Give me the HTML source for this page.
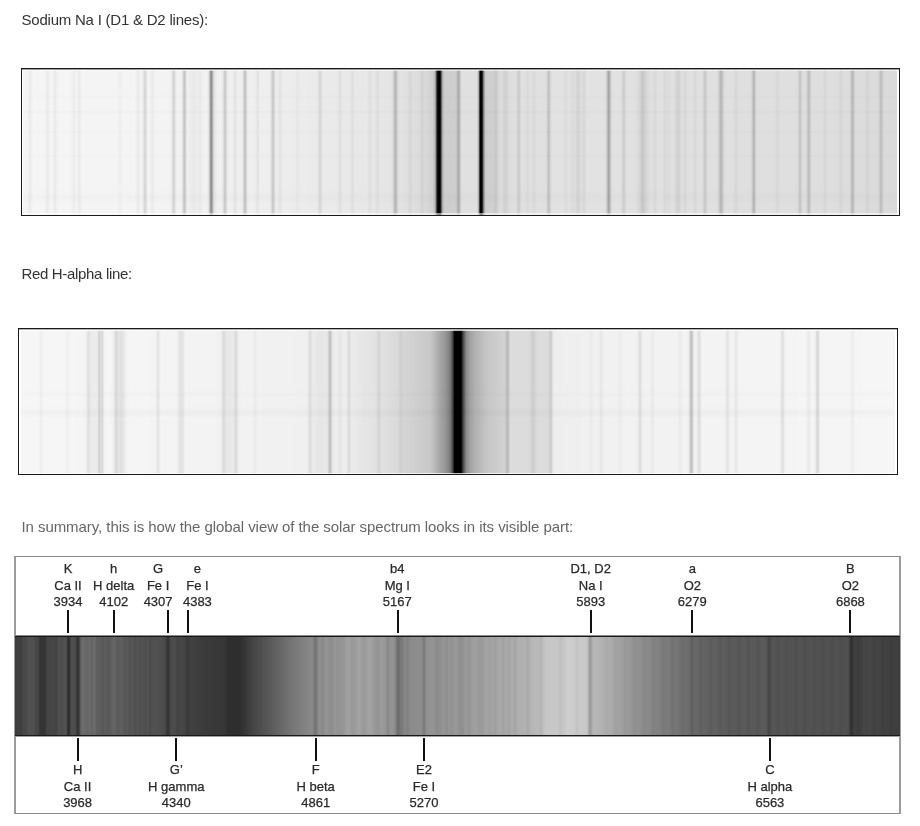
<!DOCTYPE html>
<html><head><meta charset="utf-8"><style>
html,body{margin:0;padding:0;background:#fff;}
body{width:920px;height:826px;position:relative;overflow:hidden;font-family:"Liberation Sans",Arial,sans-serif;}
.t{position:absolute;left:21.5px;font-size:15px;line-height:18px;white-space:nowrap;color:#333;}
.box{position:absolute;box-sizing:border-box;}
.sp{position:absolute;}
.lab{position:absolute;width:120px;text-align:center;font-size:13px;line-height:16.3px;color:#2a2a2a;white-space:nowrap;-webkit-text-stroke:0.25px #2a2a2a;}
.tk{position:absolute;width:2px;background:#111;}
</style></head><body>
<div class="t" style="top:10.7px;letter-spacing:-0.22px">Sodium Na I (D1 &amp; D2 lines):</div>
<div class="box" style="left:21px;top:68px;width:879px;height:148px;border:1px solid #1a1a1a;border-top-width:1.5px;background:#fff"></div>
<div class="sp" style="left:23px;top:70px;width:874px;height:145px;background:linear-gradient(to right,#f5f5f5 0.5px,#f5f5f5 1.5px,#f5f5f5 2.5px,#f5f5f5 3.5px,#f3f3f3 4.5px,#f0f0f0 5.5px,#ececec 6.5px,#ececec 7.5px,#f0f0f0 8.5px,#f3f3f3 9.5px,#f5f5f5 10.5px,#f5f5f5 11.5px,#f5f5f5 12.5px,#f5f5f5 13.5px,#f5f5f5 14.5px,#f5f5f5 15.5px,#f5f5f5 16.5px,#f5f5f5 17.5px,#f5f5f5 18.5px,#f5f5f5 19.5px,#f5f5f5 20.5px,#f4f4f4 21.5px,#f2f2f2 22.5px,#ededed 23.5px,#ebebeb 24.5px,#ededed 25.5px,#f2f2f2 26.5px,#f4f4f4 27.5px,#f4f4f4 28.5px,#f3f3f3 29.5px,#f0f0f0 30.5px,#ebebeb 31.5px,#ebebeb 32.5px,#f0f0f0 33.5px,#f3f3f3 34.5px,#f4f4f4 35.5px,#f5f5f5 36.5px,#f5f5f5 37.5px,#f5f5f5 38.5px,#f5f5f5 39.5px,#f5f5f5 40.5px,#f5f5f5 41.5px,#f5f5f5 42.5px,#f5f5f5 43.5px,#f5f5f5 44.5px,#f5f5f5 45.5px,#f5f5f5 46.5px,#f4f4f4 47.5px,#f3f3f3 48.5px,#f0f0f0 49.5px,#ededed 50.5px,#eeeeee 51.5px,#f1f1f1 52.5px,#f3f3f3 53.5px,#f1f1f1 54.5px,#ececec 55.5px,#ebebeb 56.5px,#eeeeee 57.5px,#f2f2f2 58.5px,#f4f4f4 59.5px,#f4f4f4 60.5px,#f4f4f4 61.5px,#f4f4f4 62.5px,#f4f4f4 63.5px,#f4f4f4 64.5px,#f4f4f4 65.5px,#f4f4f4 66.5px,#f4f4f4 67.5px,#f4f4f4 68.5px,#f4f4f4 69.5px,#f4f4f4 70.5px,#f4f4f4 71.5px,#f4f4f4 72.5px,#f4f4f4 73.5px,#f4f4f4 74.5px,#f4f4f4 75.5px,#f4f4f4 76.5px,#f4f4f4 77.5px,#f4f4f4 78.5px,#f4f4f4 79.5px,#f4f4f4 80.5px,#f4f4f4 81.5px,#f4f4f4 82.5px,#f4f4f4 83.5px,#f4f4f4 84.5px,#f4f4f4 85.5px,#f4f4f4 86.5px,#f4f4f4 87.5px,#f4f4f4 88.5px,#f4f4f4 89.5px,#f4f4f4 90.5px,#f4f4f4 91.5px,#f4f4f4 92.5px,#f4f4f4 93.5px,#f3f3f3 94.5px,#f2f2f2 95.5px,#efefef 96.5px,#efefef 97.5px,#f2f2f2 98.5px,#f3f3f3 99.5px,#f4f4f4 100.5px,#f4f4f4 101.5px,#f4f4f4 102.5px,#f4f4f4 103.5px,#f4f4f4 104.5px,#f4f4f4 105.5px,#f4f4f4 106.5px,#f4f4f4 107.5px,#f4f4f4 108.5px,#f4f4f4 109.5px,#f4f4f4 110.5px,#f4f4f4 111.5px,#f2f2f2 112.5px,#efefef 113.5px,#ebebeb 114.5px,#ebebeb 115.5px,#efefef 116.5px,#f2f2f2 117.5px,#f3f3f3 118.5px,#efefef 119.5px,#e4e4e4 120.5px,#d8d8d8 121.5px,#d8d8d8 122.5px,#e4e4e4 123.5px,#efefef 124.5px,#f3f3f3 125.5px,#f3f3f3 126.5px,#f1f1f1 127.5px,#ededed 128.5px,#ebebeb 129.5px,#ededed 130.5px,#f1f1f1 131.5px,#f3f3f3 132.5px,#f3f3f3 133.5px,#f3f3f3 134.5px,#f3f3f3 135.5px,#f3f3f3 136.5px,#f3f3f3 137.5px,#f3f3f3 138.5px,#f3f3f3 139.5px,#f3f3f3 140.5px,#f3f3f3 141.5px,#f3f3f3 142.5px,#f3f3f3 143.5px,#f3f3f3 144.5px,#f3f3f3 145.5px,#f2f2f2 146.5px,#f1f1f1 147.5px,#ececec 148.5px,#dfdfdf 149.5px,#d5d5d5 150.5px,#d9d9d9 151.5px,#e6e6e6 152.5px,#efefef 153.5px,#f2f2f2 154.5px,#f2f2f2 155.5px,#f2f2f2 156.5px,#f2f2f2 157.5px,#eeeeee 158.5px,#e3e3e3 159.5px,#cfcfcf 160.5px,#c6c6c6 161.5px,#d3d3d3 162.5px,#e5e5e5 163.5px,#eeeeee 164.5px,#efefef 165.5px,#eeeeee 166.5px,#ededed 167.5px,#ebebeb 168.5px,#eaeaea 169.5px,#e9e9e9 170.5px,#eaeaea 171.5px,#ebebeb 172.5px,#ececec 173.5px,#ededed 174.5px,#ebebeb 175.5px,#e9e9e9 176.5px,#e9e9e9 177.5px,#ededed 178.5px,#f0f0f0 179.5px,#f1f1f1 180.5px,#f1f1f1 181.5px,#f1f1f1 182.5px,#f1f1f1 183.5px,#eeeeee 184.5px,#e3e3e3 185.5px,#c5c5c5 186.5px,#9e9e9e 187.5px,#929292 188.5px,#afafaf 189.5px,#d2d2d2 190.5px,#e3e3e3 191.5px,#e8e8e8 192.5px,#ececec 193.5px,#efefef 194.5px,#f0f0f0 195.5px,#f0f0f0 196.5px,#f0f0f0 197.5px,#efefef 198.5px,#eaeaea 199.5px,#dddddd 200.5px,#cdcdcd 201.5px,#cdcdcd 202.5px,#dcdcdc 203.5px,#eaeaea 204.5px,#efefef 205.5px,#f0f0f0 206.5px,#f0f0f0 207.5px,#efefef 208.5px,#eeeeee 209.5px,#eaeaea 210.5px,#e5e5e5 211.5px,#e4e4e4 212.5px,#e9e9e9 213.5px,#eeeeee 214.5px,#efefef 215.5px,#efefef 216.5px,#efefef 217.5px,#eeeeee 218.5px,#e8e8e8 219.5px,#d9d9d9 220.5px,#c6c6c6 221.5px,#c6c6c6 222.5px,#d9d9d9 223.5px,#e8e8e8 224.5px,#eeeeee 225.5px,#efefef 226.5px,#efefef 227.5px,#efefef 228.5px,#efefef 229.5px,#efefef 230.5px,#eeeeee 231.5px,#ececec 232.5px,#e7e7e7 233.5px,#e5e5e5 234.5px,#e7e7e7 235.5px,#ebebeb 236.5px,#eeeeee 237.5px,#eeeeee 238.5px,#eeeeee 239.5px,#eeeeee 240.5px,#eeeeee 241.5px,#eeeeee 242.5px,#eeeeee 243.5px,#eeeeee 244.5px,#eeeeee 245.5px,#ededed 246.5px,#e8e8e8 247.5px,#dbdbdb 248.5px,#cccccc 249.5px,#cccccc 250.5px,#dbdbdb 251.5px,#e8e8e8 252.5px,#ececec 253.5px,#ececec 254.5px,#e8e8e8 255.5px,#e4e4e4 256.5px,#e4e4e4 257.5px,#e8e8e8 258.5px,#ebebeb 259.5px,#ededed 260.5px,#ededed 261.5px,#ededed 262.5px,#ededed 263.5px,#ededed 264.5px,#ededed 265.5px,#ededed 266.5px,#ededed 267.5px,#ececec 268.5px,#ececec 269.5px,#ececec 270.5px,#ececec 271.5px,#ebebeb 272.5px,#e8e8e8 273.5px,#e7e7e7 274.5px,#e8e8e8 275.5px,#eaeaea 276.5px,#ececec 277.5px,#ececec 278.5px,#ececec 279.5px,#ececec 280.5px,#ececec 281.5px,#ececec 282.5px,#ececec 283.5px,#ebebeb 284.5px,#ebebeb 285.5px,#ebebeb 286.5px,#ebebeb 287.5px,#ebebeb 288.5px,#ebebeb 289.5px,#ebebeb 290.5px,#ebebeb 291.5px,#ebebeb 292.5px,#eaeaea 293.5px,#e8e8e8 294.5px,#e1e1e1 295.5px,#d8d8d8 296.5px,#d8d8d8 297.5px,#e0e0e0 298.5px,#e7e7e7 299.5px,#eaeaea 300.5px,#eaeaea 301.5px,#eaeaea 302.5px,#eaeaea 303.5px,#eaeaea 304.5px,#eaeaea 305.5px,#eaeaea 306.5px,#eaeaea 307.5px,#eaeaea 308.5px,#eaeaea 309.5px,#eaeaea 310.5px,#eaeaea 311.5px,#eaeaea 312.5px,#e9e9e9 313.5px,#e8e8e8 314.5px,#e4e4e4 315.5px,#e0e0e0 316.5px,#e0e0e0 317.5px,#e4e4e4 318.5px,#e8e8e8 319.5px,#e9e9e9 320.5px,#e9e9e9 321.5px,#e9e9e9 322.5px,#e9e9e9 323.5px,#e9e9e9 324.5px,#e9e9e9 325.5px,#e8e8e8 326.5px,#e6e6e6 327.5px,#e1e1e1 328.5px,#dfdfdf 329.5px,#e1e1e1 330.5px,#e6e6e6 331.5px,#e8e8e8 332.5px,#e8e8e8 333.5px,#e8e8e8 334.5px,#e8e8e8 335.5px,#e8e8e8 336.5px,#e8e8e8 337.5px,#e8e8e8 338.5px,#e8e8e8 339.5px,#e8e8e8 340.5px,#e8e8e8 341.5px,#e8e8e8 342.5px,#e8e8e8 343.5px,#e6e6e6 344.5px,#e3e3e3 345.5px,#e0e0e0 346.5px,#e0e0e0 347.5px,#e3e3e3 348.5px,#e6e6e6 349.5px,#e7e7e7 350.5px,#e6e6e6 351.5px,#e4e4e4 352.5px,#e1e1e1 353.5px,#dedede 354.5px,#e0e0e0 355.5px,#e4e4e4 356.5px,#e5e5e5 357.5px,#e6e6e6 358.5px,#e6e6e6 359.5px,#e6e6e6 360.5px,#e5e5e5 361.5px,#e5e5e5 362.5px,#e5e5e5 363.5px,#e5e5e5 364.5px,#e5e5e5 365.5px,#e5e5e5 366.5px,#e4e4e4 367.5px,#e3e3e3 368.5px,#dedede 369.5px,#d0d0d0 370.5px,#bfbfbf 371.5px,#b8b8b8 372.5px,#c2c2c2 373.5px,#d3d3d3 374.5px,#dedede 375.5px,#e1e1e1 376.5px,#e2e2e2 377.5px,#e2e2e2 378.5px,#e1e1e1 379.5px,#e1e1e1 380.5px,#e1e1e1 381.5px,#e0e0e0 382.5px,#e0e0e0 383.5px,#dfdfdf 384.5px,#dbdbdb 385.5px,#d8d8d8 386.5px,#d7d7d7 387.5px,#dadada 388.5px,#dddddd 389.5px,#dedede 390.5px,#dddddd 391.5px,#dddddd 392.5px,#dddddd 393.5px,#dcdcdc 394.5px,#dcdcdc 395.5px,#dbdbdb 396.5px,#d7d7d7 397.5px,#d4d4d4 398.5px,#d3d3d3 399.5px,#d6d6d6 400.5px,#d9d9d9 401.5px,#d9d9d9 402.5px,#d8d8d8 403.5px,#d6d6d6 404.5px,#d5d5d5 405.5px,#d4d4d4 406.5px,#d2d2d2 407.5px,#d1d1d1 408.5px,#d0d0d0 409.5px,#c9c9c9 410.5px,#bebebe 411.5px,#989898 412.5px,#4b4b4b 413.5px,#101010 414.5px,#030303 415.5px,#030303 416.5px,#1a1a1a 417.5px,#676767 418.5px,#a5a5a5 419.5px,#c2c2c2 420.5px,#cacaca 421.5px,#cecece 422.5px,#cecece 423.5px,#cecece 424.5px,#cecece 425.5px,#cecece 426.5px,#cecece 427.5px,#cecece 428.5px,#cecece 429.5px,#cecece 430.5px,#cecece 431.5px,#cccccc 432.5px,#c5c5c5 433.5px,#b7b7b7 434.5px,#adadad 435.5px,#b7b7b7 436.5px,#cecece 437.5px,#dcdcdc 438.5px,#dfdfdf 439.5px,#e0e0e0 440.5px,#e0e0e0 441.5px,#e0e0e0 442.5px,#e0e0e0 443.5px,#e0e0e0 444.5px,#e0e0e0 445.5px,#e0e0e0 446.5px,#e0e0e0 447.5px,#e0e0e0 448.5px,#e0e0e0 449.5px,#e0e0e0 450.5px,#e0e0e0 451.5px,#e0e0e0 452.5px,#e0e0e0 453.5px,#d2d2d2 454.5px,#aeaeae 455.5px,#464646 456.5px,#030303 457.5px,#030303 458.5px,#282828 459.5px,#787878 460.5px,#a8a8a8 461.5px,#c7c7c7 462.5px,#cecece 463.5px,#cecece 464.5px,#cfcfcf 465.5px,#cfcfcf 466.5px,#cfcfcf 467.5px,#cfcfcf 468.5px,#cfcfcf 469.5px,#cecece 470.5px,#cbcbcb 471.5px,#c8c8c8 472.5px,#cacaca 473.5px,#d1d1d1 474.5px,#d7d7d7 475.5px,#dadada 476.5px,#dcdcdc 477.5px,#dbdbdb 478.5px,#d9d9d9 479.5px,#d5d5d5 480.5px,#d2d2d2 481.5px,#d1d1d1 482.5px,#d3d3d3 483.5px,#d6d6d6 484.5px,#dadada 485.5px,#dcdcdc 486.5px,#dedede 487.5px,#dedede 488.5px,#dedede 489.5px,#dfdfdf 490.5px,#dfdfdf 491.5px,#dedede 492.5px,#dbdbdb 493.5px,#d3d3d3 494.5px,#cccccc 495.5px,#cfcfcf 496.5px,#d8d8d8 497.5px,#dedede 498.5px,#e0e0e0 499.5px,#e0e0e0 500.5px,#e0e0e0 501.5px,#dedede 502.5px,#dcdcdc 503.5px,#dadada 504.5px,#dcdcdc 505.5px,#dedede 506.5px,#dfdfdf 507.5px,#dfdfdf 508.5px,#dddddd 509.5px,#dadada 510.5px,#dadada 511.5px,#dddddd 512.5px,#dfdfdf 513.5px,#e0e0e0 514.5px,#e0e0e0 515.5px,#e0e0e0 516.5px,#e0e0e0 517.5px,#e0e0e0 518.5px,#e0e0e0 519.5px,#e0e0e0 520.5px,#e0e0e0 521.5px,#dfdfdf 522.5px,#d9d9d9 523.5px,#cccccc 524.5px,#c2c2c2 525.5px,#c7c7c7 526.5px,#d5d5d5 527.5px,#dfdfdf 528.5px,#e2e2e2 529.5px,#e2e2e2 530.5px,#e2e2e2 531.5px,#e2e2e2 532.5px,#e2e2e2 533.5px,#e2e2e2 534.5px,#e2e2e2 535.5px,#e2e2e2 536.5px,#e2e2e2 537.5px,#e2e2e2 538.5px,#e2e2e2 539.5px,#e1e1e1 540.5px,#dfdfdf 541.5px,#dcdcdc 542.5px,#dcdcdc 543.5px,#dfdfdf 544.5px,#e1e1e1 545.5px,#e1e1e1 546.5px,#e0e0e0 547.5px,#dddddd 548.5px,#dcdcdc 549.5px,#dcdcdc 550.5px,#dddddd 551.5px,#dbdbdb 552.5px,#d7d7d7 553.5px,#d4d4d4 554.5px,#d4d4d4 555.5px,#d7d7d7 556.5px,#dbdbdb 557.5px,#dddddd 558.5px,#dcdcdc 559.5px,#d8d8d8 560.5px,#d9d9d9 561.5px,#dddddd 562.5px,#e0e0e0 563.5px,#e2e2e2 564.5px,#e2e2e2 565.5px,#e2e2e2 566.5px,#e2e2e2 567.5px,#e2e2e2 568.5px,#e2e2e2 569.5px,#e2e2e2 570.5px,#e2e2e2 571.5px,#e2e2e2 572.5px,#e2e2e2 573.5px,#e2e2e2 574.5px,#e2e2e2 575.5px,#e2e2e2 576.5px,#e2e2e2 577.5px,#e2e2e2 578.5px,#e2e2e2 579.5px,#e2e2e2 580.5px,#e1e1e1 581.5px,#dedede 582.5px,#d1d1d1 583.5px,#bababa 584.5px,#a7a7a7 585.5px,#aeaeae 586.5px,#c6c6c6 587.5px,#d9d9d9 588.5px,#e0e0e0 589.5px,#e1e1e1 590.5px,#e2e2e2 591.5px,#e2e2e2 592.5px,#e2e2e2 593.5px,#e2e2e2 594.5px,#e2e2e2 595.5px,#e1e1e1 596.5px,#e1e1e1 597.5px,#dddddd 598.5px,#d5d5d5 599.5px,#cecece 600.5px,#d1d1d1 601.5px,#d9d9d9 602.5px,#dfdfdf 603.5px,#e1e1e1 604.5px,#e1e1e1 605.5px,#e1e1e1 606.5px,#e1e1e1 607.5px,#e1e1e1 608.5px,#e1e1e1 609.5px,#e1e1e1 610.5px,#e0e0e0 611.5px,#dfdfdf 612.5px,#dedede 613.5px,#dcdcdc 614.5px,#d9d9d9 615.5px,#d6d6d6 616.5px,#d1d1d1 617.5px,#cbcbcb 618.5px,#c7c7c7 619.5px,#c9c9c9 620.5px,#cecece 621.5px,#d3d3d3 622.5px,#d6d6d6 623.5px,#d9d9d9 624.5px,#dcdcdc 625.5px,#dedede 626.5px,#dfdfdf 627.5px,#e0e0e0 628.5px,#dfdfdf 629.5px,#dddddd 630.5px,#d9d9d9 631.5px,#d9d9d9 632.5px,#dddddd 633.5px,#e0e0e0 634.5px,#e1e1e1 635.5px,#e1e1e1 636.5px,#e1e1e1 637.5px,#e1e1e1 638.5px,#e0e0e0 639.5px,#dddddd 640.5px,#d9d9d9 641.5px,#d9d9d9 642.5px,#dbdbdb 643.5px,#dcdcdc 644.5px,#dbdbdb 645.5px,#dcdcdc 646.5px,#dedede 647.5px,#e0e0e0 648.5px,#e0e0e0 649.5px,#dfdfdf 650.5px,#dddddd 651.5px,#d9d9d9 652.5px,#d5d5d5 653.5px,#d1d1d1 654.5px,#d1d1d1 655.5px,#d4d4d4 656.5px,#d9d9d9 657.5px,#dddddd 658.5px,#dedede 659.5px,#dcdcdc 660.5px,#d9d9d9 661.5px,#d9d9d9 662.5px,#dcdcdc 663.5px,#dfdfdf 664.5px,#e0e0e0 665.5px,#e0e0e0 666.5px,#e0e0e0 667.5px,#e0e0e0 668.5px,#dfdfdf 669.5px,#dcdcdc 670.5px,#d9d9d9 671.5px,#d9d9d9 672.5px,#dcdcdc 673.5px,#dfdfdf 674.5px,#e0e0e0 675.5px,#e0e0e0 676.5px,#e0e0e0 677.5px,#e0e0e0 678.5px,#dcdcdc 679.5px,#d4d4d4 680.5px,#cacaca 681.5px,#cacaca 682.5px,#d4d4d4 683.5px,#dcdcdc 684.5px,#dfdfdf 685.5px,#e0e0e0 686.5px,#e0e0e0 687.5px,#e0e0e0 688.5px,#e0e0e0 689.5px,#e0e0e0 690.5px,#e0e0e0 691.5px,#e0e0e0 692.5px,#dfdfdf 693.5px,#dcdcdc 694.5px,#d4d4d4 695.5px,#c6c6c6 696.5px,#bababa 697.5px,#bababa 698.5px,#c6c6c6 699.5px,#d4d4d4 700.5px,#dcdcdc 701.5px,#dfdfdf 702.5px,#e0e0e0 703.5px,#e0e0e0 704.5px,#e0e0e0 705.5px,#e0e0e0 706.5px,#e0e0e0 707.5px,#e0e0e0 708.5px,#dfdfdf 709.5px,#dedede 710.5px,#dbdbdb 711.5px,#d8d8d8 712.5px,#d8d8d8 713.5px,#dbdbdb 714.5px,#dedede 715.5px,#dfdfdf 716.5px,#dfdfdf 717.5px,#dfdfdf 718.5px,#dfdfdf 719.5px,#dfdfdf 720.5px,#dfdfdf 721.5px,#dfdfdf 722.5px,#dfdfdf 723.5px,#dfdfdf 724.5px,#dfdfdf 725.5px,#dfdfdf 726.5px,#dedede 727.5px,#d6d6d6 728.5px,#c6c6c6 729.5px,#b8b8b8 730.5px,#bdbdbd 731.5px,#cfcfcf 732.5px,#dbdbdb 733.5px,#dfdfdf 734.5px,#dfdfdf 735.5px,#dfdfdf 736.5px,#dfdfdf 737.5px,#dfdfdf 738.5px,#dfdfdf 739.5px,#dfdfdf 740.5px,#dfdfdf 741.5px,#dfdfdf 742.5px,#dfdfdf 743.5px,#dfdfdf 744.5px,#dfdfdf 745.5px,#dfdfdf 746.5px,#dfdfdf 747.5px,#dfdfdf 748.5px,#dfdfdf 749.5px,#dfdfdf 750.5px,#dedede 751.5px,#dddddd 752.5px,#dadada 753.5px,#d9d9d9 754.5px,#dadada 755.5px,#dddddd 756.5px,#dedede 757.5px,#dfdfdf 758.5px,#dfdfdf 759.5px,#dfdfdf 760.5px,#dfdfdf 761.5px,#dfdfdf 762.5px,#dfdfdf 763.5px,#dfdfdf 764.5px,#dfdfdf 765.5px,#dfdfdf 766.5px,#dfdfdf 767.5px,#dfdfdf 768.5px,#dfdfdf 769.5px,#dfdfdf 770.5px,#dfdfdf 771.5px,#dedede 772.5px,#dedede 773.5px,#dbdbdb 774.5px,#d2d2d2 775.5px,#c8c8c8 776.5px,#c8c8c8 777.5px,#d2d2d2 778.5px,#dbdbdb 779.5px,#dedede 780.5px,#dedede 781.5px,#dddddd 782.5px,#d7d7d7 783.5px,#cacaca 784.5px,#bfbfbf 785.5px,#c3c3c3 786.5px,#d1d1d1 787.5px,#dbdbdb 788.5px,#dedede 789.5px,#dedede 790.5px,#dedede 791.5px,#dedede 792.5px,#dedede 793.5px,#dedede 794.5px,#dedede 795.5px,#dedede 796.5px,#dedede 797.5px,#dedede 798.5px,#dddddd 799.5px,#dbdbdb 800.5px,#d8d8d8 801.5px,#d8d8d8 802.5px,#dbdbdb 803.5px,#dddddd 804.5px,#dedede 805.5px,#dedede 806.5px,#dedede 807.5px,#dedede 808.5px,#dedede 809.5px,#dedede 810.5px,#dddddd 811.5px,#dddddd 812.5px,#dddddd 813.5px,#dddddd 814.5px,#dcdcdc 815.5px,#d9d9d9 816.5px,#d6d6d6 817.5px,#d6d6d6 818.5px,#d9d9d9 819.5px,#dcdcdc 820.5px,#dddddd 821.5px,#dddddd 822.5px,#dddddd 823.5px,#dddddd 824.5px,#dcdcdc 825.5px,#dadada 826.5px,#d2d2d2 827.5px,#c2c2c2 828.5px,#b8b8b8 829.5px,#c2c2c2 830.5px,#d1d1d1 831.5px,#dadada 832.5px,#dcdcdc 833.5px,#dcdcdc 834.5px,#dcdcdc 835.5px,#dcdcdc 836.5px,#dcdcdc 837.5px,#dcdcdc 838.5px,#dcdcdc 839.5px,#dcdcdc 840.5px,#dbdbdb 841.5px,#d9d9d9 842.5px,#d6d6d6 843.5px,#d4d4d4 844.5px,#d6d6d6 845.5px,#d9d9d9 846.5px,#dbdbdb 847.5px,#dbdbdb 848.5px,#dbdbdb 849.5px,#dbdbdb 850.5px,#dbdbdb 851.5px,#dbdbdb 852.5px,#dbdbdb 853.5px,#dadada 854.5px,#d7d7d7 855.5px,#cdcdcd 856.5px,#c1c1c1 857.5px,#c1c1c1 858.5px,#cccccc 859.5px,#d6d6d6 860.5px,#dadada 861.5px,#dbdbdb 862.5px,#dbdbdb 863.5px,#dadada 864.5px,#dadada 865.5px,#dadada 866.5px,#dadada 867.5px,#dadada 868.5px,#dadada 869.5px,#dadada 870.5px,#dadada 871.5px,#dadada 872.5px,#dadada 873.5px)"></div>
<div class="sp" style="left:23px;top:70px;width:874px;height:145px;background:linear-gradient(to bottom,rgba(0,0,0,0) 0px,rgba(0,0,0,0) 24px,rgba(0,0,0,0.012) 27px,rgba(0,0,0,0) 30px,rgba(0,0,0,0) 40px,rgba(0,0,0,0.012) 42px,rgba(0,0,0,0) 44px,rgba(0,0,0,0) 59px,rgba(0,0,0,0.012) 62px,rgba(0,0,0,0) 65px,rgba(0,0,0,0) 83px,rgba(0,0,0,0.012) 86px,rgba(0,0,0,0) 89px,rgba(0,0,0,0) 120px,rgba(0,0,0,0.015) 127px,rgba(0,0,0,0) 134px)"></div>
<div class="sp" style="left:23px;top:70px;width:874px;height:1px;background:rgba(255,255,255,0.6)"></div>
<div class="sp" style="left:23px;top:213px;width:874px;height:2px;background:rgba(255,255,255,0.55)"></div>
<div class="sp" style="left:21px;top:69px;width:879px;height:1px;background:rgba(40,40,40,0.45)"></div>
<div class="t" style="top:265.1px;letter-spacing:-0.33px">Red H-alpha line:</div>
<div class="box" style="left:18px;top:328px;width:880px;height:147px;border:1px solid #1a1a1a;background:#fff"></div>
<div class="sp" style="left:21px;top:330px;width:874px;height:144px;background:linear-gradient(to right,#f6f6f6 0.5px,#f6f6f6 1.5px,#f6f6f6 2.5px,#f6f6f6 3.5px,#f6f6f6 4.5px,#f6f6f6 5.5px,#f6f6f6 6.5px,#f6f6f6 7.5px,#f6f6f6 8.5px,#f6f6f6 9.5px,#f6f6f6 10.5px,#f6f6f6 11.5px,#f6f6f6 12.5px,#f6f6f6 13.5px,#f6f6f6 14.5px,#f6f6f6 15.5px,#f6f6f6 16.5px,#f5f5f5 17.5px,#f3f3f3 18.5px,#f0f0f0 19.5px,#f0f0f0 20.5px,#f3f3f3 21.5px,#f5f5f5 22.5px,#f6f6f6 23.5px,#f6f6f6 24.5px,#f6f6f6 25.5px,#f6f6f6 26.5px,#f6f6f6 27.5px,#f6f6f6 28.5px,#f6f6f6 29.5px,#f6f6f6 30.5px,#f6f6f6 31.5px,#f6f6f6 32.5px,#f6f6f6 33.5px,#f6f6f6 34.5px,#f6f6f6 35.5px,#f6f6f6 36.5px,#f6f6f6 37.5px,#f6f6f6 38.5px,#f6f6f6 39.5px,#f6f6f6 40.5px,#f6f6f6 41.5px,#f6f6f6 42.5px,#f5f5f5 43.5px,#f4f4f4 44.5px,#f1f1f1 45.5px,#f0f0f0 46.5px,#f1f1f1 47.5px,#f4f4f4 48.5px,#f5f5f5 49.5px,#f5f5f5 50.5px,#f6f6f6 51.5px,#f6f6f6 52.5px,#f6f6f6 53.5px,#f5f5f5 54.5px,#f5f5f5 55.5px,#f5f5f5 56.5px,#f5f5f5 57.5px,#f5f5f5 58.5px,#f5f5f5 59.5px,#f5f5f5 60.5px,#f5f5f5 61.5px,#f4f4f4 62.5px,#f4f4f4 63.5px,#f2f2f2 64.5px,#ededed 65.5px,#e5e5e5 66.5px,#e0e0e0 67.5px,#e3e3e3 68.5px,#e9e9e9 69.5px,#ebebeb 70.5px,#ececec 71.5px,#ebebeb 72.5px,#ebebeb 73.5px,#ececec 74.5px,#ececec 75.5px,#e8e8e8 76.5px,#d9d9d9 77.5px,#d2d2d2 78.5px,#dcdcdc 79.5px,#dbdbdb 80.5px,#dadada 81.5px,#e8e8e8 82.5px,#f2f2f2 83.5px,#f4f4f4 84.5px,#f5f5f5 85.5px,#f5f5f5 86.5px,#f5f5f5 87.5px,#f5f5f5 88.5px,#f4f4f4 89.5px,#f4f4f4 90.5px,#f2f2f2 91.5px,#efefef 92.5px,#e5e5e5 93.5px,#dbdbdb 94.5px,#d9d9d9 95.5px,#dfdfdf 96.5px,#e4e4e4 97.5px,#e3e3e3 98.5px,#e1e1e1 99.5px,#e1e1e1 100.5px,#e2e2e2 101.5px,#e6e6e6 102.5px,#eaeaea 103.5px,#eeeeee 104.5px,#f1f1f1 105.5px,#f3f3f3 106.5px,#f4f4f4 107.5px,#f5f5f5 108.5px,#f5f5f5 109.5px,#f5f5f5 110.5px,#f5f5f5 111.5px,#f5f5f5 112.5px,#f5f5f5 113.5px,#f5f5f5 114.5px,#f5f5f5 115.5px,#f5f5f5 116.5px,#f5f5f5 117.5px,#f5f5f5 118.5px,#f5f5f5 119.5px,#f5f5f5 120.5px,#f5f5f5 121.5px,#f5f5f5 122.5px,#f5f5f5 123.5px,#f5f5f5 124.5px,#f5f5f5 125.5px,#f5f5f5 126.5px,#f5f5f5 127.5px,#f4f4f4 128.5px,#f4f4f4 129.5px,#f4f4f4 130.5px,#f4f4f4 131.5px,#f4f4f4 132.5px,#f4f4f4 133.5px,#f2f2f2 134.5px,#ececec 135.5px,#e5e5e5 136.5px,#e5e5e5 137.5px,#ececec 138.5px,#f2f2f2 139.5px,#f4f4f4 140.5px,#f4f4f4 141.5px,#f4f4f4 142.5px,#f4f4f4 143.5px,#f4f4f4 144.5px,#f4f4f4 145.5px,#f4f4f4 146.5px,#f4f4f4 147.5px,#f4f4f4 148.5px,#f4f4f4 149.5px,#f4f4f4 150.5px,#f4f4f4 151.5px,#f4f4f4 152.5px,#f4f4f4 153.5px,#f4f4f4 154.5px,#f3f3f3 155.5px,#efefef 156.5px,#e9e9e9 157.5px,#e4e4e4 158.5px,#e4e4e4 159.5px,#e3e3e3 160.5px,#e3e3e3 161.5px,#e8e8e8 162.5px,#efefef 163.5px,#f3f3f3 164.5px,#f3f3f3 165.5px,#f3f3f3 166.5px,#f3f3f3 167.5px,#f3f3f3 168.5px,#f3f3f3 169.5px,#f3f3f3 170.5px,#f3f3f3 171.5px,#f3f3f3 172.5px,#f3f3f3 173.5px,#f3f3f3 174.5px,#f3f3f3 175.5px,#f3f3f3 176.5px,#f3f3f3 177.5px,#f3f3f3 178.5px,#f3f3f3 179.5px,#f3f3f3 180.5px,#f3f3f3 181.5px,#f3f3f3 182.5px,#f3f3f3 183.5px,#f3f3f3 184.5px,#f3f3f3 185.5px,#f3f3f3 186.5px,#f3f3f3 187.5px,#f3f3f3 188.5px,#f3f3f3 189.5px,#f3f3f3 190.5px,#f3f3f3 191.5px,#f3f3f3 192.5px,#f3f3f3 193.5px,#f3f3f3 194.5px,#f2f2f2 195.5px,#f2f2f2 196.5px,#f2f2f2 197.5px,#f1f1f1 198.5px,#efefef 199.5px,#ebebeb 200.5px,#e3e3e3 201.5px,#dbdbdb 202.5px,#dddddd 203.5px,#e3e3e3 204.5px,#e8e8e8 205.5px,#e9e9e9 206.5px,#e8e8e8 207.5px,#e8e8e8 208.5px,#e9e9e9 209.5px,#e9e9e9 210.5px,#eaeaea 211.5px,#e8e8e8 212.5px,#e3e3e3 213.5px,#dbdbdb 214.5px,#dcdcdc 215.5px,#e6e6e6 216.5px,#ededed 217.5px,#f1f1f1 218.5px,#f1f1f1 219.5px,#f2f2f2 220.5px,#f2f2f2 221.5px,#f2f2f2 222.5px,#f2f2f2 223.5px,#f2f2f2 224.5px,#f2f2f2 225.5px,#f2f2f2 226.5px,#f2f2f2 227.5px,#f2f2f2 228.5px,#f2f2f2 229.5px,#f2f2f2 230.5px,#f1f1f1 231.5px,#efefef 232.5px,#ececec 233.5px,#ececec 234.5px,#efefef 235.5px,#f1f1f1 236.5px,#f1f1f1 237.5px,#f2f2f2 238.5px,#f2f2f2 239.5px,#f2f2f2 240.5px,#f1f1f1 241.5px,#f1f1f1 242.5px,#f1f1f1 243.5px,#f1f1f1 244.5px,#f1f1f1 245.5px,#f1f1f1 246.5px,#f1f1f1 247.5px,#f1f1f1 248.5px,#f1f1f1 249.5px,#f1f1f1 250.5px,#f1f1f1 251.5px,#f1f1f1 252.5px,#f1f1f1 253.5px,#f1f1f1 254.5px,#f1f1f1 255.5px,#f1f1f1 256.5px,#f1f1f1 257.5px,#f1f1f1 258.5px,#f1f1f1 259.5px,#f1f1f1 260.5px,#f1f1f1 261.5px,#f1f1f1 262.5px,#f1f1f1 263.5px,#f1f1f1 264.5px,#f1f1f1 265.5px,#f1f1f1 266.5px,#f1f1f1 267.5px,#f1f1f1 268.5px,#f1f1f1 269.5px,#f1f1f1 270.5px,#f1f1f1 271.5px,#f1f1f1 272.5px,#f1f1f1 273.5px,#f0f0f0 274.5px,#f0f0f0 275.5px,#f0f0f0 276.5px,#f0f0f0 277.5px,#f0f0f0 278.5px,#f0f0f0 279.5px,#f0f0f0 280.5px,#f0f0f0 281.5px,#f0f0f0 282.5px,#f0f0f0 283.5px,#f0f0f0 284.5px,#efefef 285.5px,#ececec 286.5px,#e6e6e6 287.5px,#dedede 288.5px,#dddddd 289.5px,#e4e4e4 290.5px,#e9e9e9 291.5px,#ebebeb 292.5px,#eaeaea 293.5px,#e9e9e9 294.5px,#e8e8e8 295.5px,#e7e7e7 296.5px,#e7e7e7 297.5px,#e6e6e6 298.5px,#e6e6e6 299.5px,#e6e6e6 300.5px,#e6e6e6 301.5px,#e6e6e6 302.5px,#e7e7e7 303.5px,#e7e7e7 304.5px,#e7e7e7 305.5px,#e2e2e2 306.5px,#d4d4d4 307.5px,#c3c3c3 308.5px,#c4c4c4 309.5px,#d6d6d6 310.5px,#e5e5e5 311.5px,#ebebeb 312.5px,#ececec 313.5px,#ededed 314.5px,#ededed 315.5px,#ececec 316.5px,#e9e9e9 317.5px,#e6e6e6 318.5px,#e6e6e6 319.5px,#e9e9e9 320.5px,#ececec 321.5px,#eeeeee 322.5px,#eeeeee 323.5px,#ededed 324.5px,#eaeaea 325.5px,#e3e3e3 326.5px,#dddddd 327.5px,#dedede 328.5px,#e5e5e5 329.5px,#e9e9e9 330.5px,#eaeaea 331.5px,#eaeaea 332.5px,#eaeaea 333.5px,#e9e9e9 334.5px,#e9e9e9 335.5px,#e8e8e8 336.5px,#e8e8e8 337.5px,#e7e7e7 338.5px,#e7e7e7 339.5px,#e6e6e6 340.5px,#e6e6e6 341.5px,#e6e6e6 342.5px,#e5e5e5 343.5px,#e5e5e5 344.5px,#e5e5e5 345.5px,#e5e5e5 346.5px,#e4e4e4 347.5px,#e4e4e4 348.5px,#e4e4e4 349.5px,#e4e4e4 350.5px,#e3e3e3 351.5px,#e3e3e3 352.5px,#e3e3e3 353.5px,#e2e2e2 354.5px,#dfdfdf 355.5px,#d9d9d9 356.5px,#d4d4d4 357.5px,#d6d6d6 358.5px,#dbdbdb 359.5px,#dfdfdf 360.5px,#e0e0e0 361.5px,#e0e0e0 362.5px,#dfdfdf 363.5px,#dfdfdf 364.5px,#dedede 365.5px,#dedede 366.5px,#dddddd 367.5px,#dddddd 368.5px,#dddddd 369.5px,#dcdcdc 370.5px,#dcdcdc 371.5px,#dbdbdb 372.5px,#dbdbdb 373.5px,#dadada 374.5px,#d9d9d9 375.5px,#d9d9d9 376.5px,#d7d7d7 377.5px,#d4d4d4 378.5px,#d0d0d0 379.5px,#cfcfcf 380.5px,#d2d2d2 381.5px,#d4d4d4 382.5px,#d5d5d5 383.5px,#d4d4d4 384.5px,#d4d4d4 385.5px,#d3d3d3 386.5px,#d3d3d3 387.5px,#d2d2d2 388.5px,#d2d2d2 389.5px,#d1d1d1 390.5px,#d1d1d1 391.5px,#d0d0d0 392.5px,#d0d0d0 393.5px,#cfcfcf 394.5px,#cfcfcf 395.5px,#cecece 396.5px,#cecece 397.5px,#cdcdcd 398.5px,#cdcdcd 399.5px,#cccccc 400.5px,#cccccc 401.5px,#cbcbcb 402.5px,#cbcbcb 403.5px,#cacaca 404.5px,#cacaca 405.5px,#c9c9c9 406.5px,#c9c9c9 407.5px,#c8c8c8 408.5px,#c7c7c7 409.5px,#c4c4c4 410.5px,#c1c1c1 411.5px,#bdbdbd 412.5px,#bababa 413.5px,#b7b7b7 414.5px,#b3b3b3 415.5px,#afafaf 416.5px,#acacac 417.5px,#a8a8a8 418.5px,#a6a6a6 419.5px,#a2a2a2 420.5px,#9f9f9f 421.5px,#9c9c9c 422.5px,#999999 423.5px,#959595 424.5px,#919191 425.5px,#8b8b8b 426.5px,#858585 427.5px,#7f7f7f 428.5px,#737373 429.5px,#616161 430.5px,#494949 431.5px,#2b2b2b 432.5px,#020202 433.5px,#020202 434.5px,#020202 435.5px,#020202 436.5px,#020202 437.5px,#020202 438.5px,#020202 439.5px,#0d0d0d 440.5px,#313131 441.5px,#4d4d4d 442.5px,#646464 443.5px,#7c7c7c 444.5px,#8b8b8b 445.5px,#929292 446.5px,#989898 447.5px,#9f9f9f 448.5px,#a3a3a3 449.5px,#a6a6a6 450.5px,#a9a9a9 451.5px,#acacac 452.5px,#afafaf 453.5px,#b1b1b1 454.5px,#b3b3b3 455.5px,#b5b5b5 456.5px,#b6b6b6 457.5px,#b8b8b8 458.5px,#bababa 459.5px,#bcbcbc 460.5px,#bebebe 461.5px,#c0c0c0 462.5px,#c1c1c1 463.5px,#c3c3c3 464.5px,#c5c5c5 465.5px,#c6c6c6 466.5px,#c7c7c7 467.5px,#c8c8c8 468.5px,#c8c8c8 469.5px,#c9c9c9 470.5px,#cacaca 471.5px,#cacaca 472.5px,#cbcbcb 473.5px,#cccccc 474.5px,#cccccc 475.5px,#cdcdcd 476.5px,#cecece 477.5px,#cecece 478.5px,#cfcfcf 479.5px,#d0d0d0 480.5px,#d0d0d0 481.5px,#d1d1d1 482.5px,#d0d0d0 483.5px,#cacaca 484.5px,#bfbfbf 485.5px,#b9b9b9 486.5px,#c3c3c3 487.5px,#d2d2d2 488.5px,#dadada 489.5px,#dcdcdc 490.5px,#dcdcdc 491.5px,#dcdcdc 492.5px,#dcdcdc 493.5px,#dcdcdc 494.5px,#dcdcdc 495.5px,#dcdcdc 496.5px,#dcdcdc 497.5px,#dcdcdc 498.5px,#dcdcdc 499.5px,#dcdcdc 500.5px,#dcdcdc 501.5px,#dcdcdc 502.5px,#dcdcdc 503.5px,#dcdcdc 504.5px,#dcdcdc 505.5px,#dcdcdc 506.5px,#dbdbdb 507.5px,#d9d9d9 508.5px,#d6d6d6 509.5px,#d1d1d1 510.5px,#cecece 511.5px,#cecece 512.5px,#d1d1d1 513.5px,#d6d6d6 514.5px,#d9d9d9 515.5px,#dbdbdb 516.5px,#dcdcdc 517.5px,#dcdcdc 518.5px,#dcdcdc 519.5px,#dcdcdc 520.5px,#dcdcdc 521.5px,#dcdcdc 522.5px,#dcdcdc 523.5px,#dcdcdc 524.5px,#dcdcdc 525.5px,#dbdbdb 526.5px,#d8d8d8 527.5px,#d2d2d2 528.5px,#cccccc 529.5px,#d1d1d1 530.5px,#dfdfdf 531.5px,#eaeaea 532.5px,#ededed 533.5px,#eeeeee 534.5px,#eeeeee 535.5px,#eeeeee 536.5px,#eeeeee 537.5px,#eeeeee 538.5px,#eeeeee 539.5px,#eeeeee 540.5px,#efefef 541.5px,#efefef 542.5px,#efefef 543.5px,#efefef 544.5px,#efefef 545.5px,#efefef 546.5px,#efefef 547.5px,#efefef 548.5px,#efefef 549.5px,#efefef 550.5px,#efefef 551.5px,#efefef 552.5px,#efefef 553.5px,#efefef 554.5px,#efefef 555.5px,#efefef 556.5px,#efefef 557.5px,#efefef 558.5px,#efefef 559.5px,#f0f0f0 560.5px,#f0f0f0 561.5px,#f0f0f0 562.5px,#f0f0f0 563.5px,#f0f0f0 564.5px,#f0f0f0 565.5px,#f0f0f0 566.5px,#efefef 567.5px,#ededed 568.5px,#eaeaea 569.5px,#ebebeb 570.5px,#ededed 571.5px,#efefef 572.5px,#f0f0f0 573.5px,#f1f1f1 574.5px,#f1f1f1 575.5px,#f0f0f0 576.5px,#efefef 577.5px,#ececec 578.5px,#e8e8e8 579.5px,#e8e8e8 580.5px,#ececec 581.5px,#efefef 582.5px,#f1f1f1 583.5px,#f1f1f1 584.5px,#f1f1f1 585.5px,#f1f1f1 586.5px,#f1f1f1 587.5px,#f1f1f1 588.5px,#f1f1f1 589.5px,#f1f1f1 590.5px,#f1f1f1 591.5px,#f1f1f1 592.5px,#f1f1f1 593.5px,#f1f1f1 594.5px,#f1f1f1 595.5px,#f0f0f0 596.5px,#eeeeee 597.5px,#ececec 598.5px,#ececec 599.5px,#eeeeee 600.5px,#f1f1f1 601.5px,#f1f1f1 602.5px,#f1f1f1 603.5px,#f2f2f2 604.5px,#f2f2f2 605.5px,#f2f2f2 606.5px,#f2f2f2 607.5px,#f2f2f2 608.5px,#f2f2f2 609.5px,#f2f2f2 610.5px,#f2f2f2 611.5px,#f2f2f2 612.5px,#f2f2f2 613.5px,#f2f2f2 614.5px,#f1f1f1 615.5px,#efefef 616.5px,#e7e7e7 617.5px,#dfdfdf 618.5px,#dfdfdf 619.5px,#e8e8e8 620.5px,#efefef 621.5px,#f1f1f1 622.5px,#f2f2f2 623.5px,#f2f2f2 624.5px,#f2f2f2 625.5px,#f2f2f2 626.5px,#f2f2f2 627.5px,#f1f1f1 628.5px,#f0f0f0 629.5px,#ececec 630.5px,#eaeaea 631.5px,#ececec 632.5px,#f0f0f0 633.5px,#f2f2f2 634.5px,#f2f2f2 635.5px,#f2f2f2 636.5px,#f2f2f2 637.5px,#f2f2f2 638.5px,#f2f2f2 639.5px,#f2f2f2 640.5px,#f2f2f2 641.5px,#f2f2f2 642.5px,#f2f2f2 643.5px,#f2f2f2 644.5px,#f2f2f2 645.5px,#f2f2f2 646.5px,#f2f2f2 647.5px,#f2f2f2 648.5px,#f2f2f2 649.5px,#f2f2f2 650.5px,#f2f2f2 651.5px,#f2f2f2 652.5px,#f2f2f2 653.5px,#f2f2f2 654.5px,#f2f2f2 655.5px,#f1f1f1 656.5px,#eeeeee 657.5px,#ebebeb 658.5px,#ebebeb 659.5px,#efefef 660.5px,#f1f1f1 661.5px,#f2f2f2 662.5px,#f3f3f3 663.5px,#f3f3f3 664.5px,#f3f3f3 665.5px,#f1f1f1 666.5px,#ececec 667.5px,#dddddd 668.5px,#c8c8c8 669.5px,#c1c1c1 670.5px,#d0d0d0 671.5px,#e4e4e4 672.5px,#efefef 673.5px,#f2f2f2 674.5px,#efefef 675.5px,#e8e8e8 676.5px,#dfdfdf 677.5px,#dfdfdf 678.5px,#e8e8e8 679.5px,#f0f0f0 680.5px,#f2f2f2 681.5px,#f3f3f3 682.5px,#f3f3f3 683.5px,#f3f3f3 684.5px,#f3f3f3 685.5px,#f3f3f3 686.5px,#f3f3f3 687.5px,#f3f3f3 688.5px,#f3f3f3 689.5px,#f3f3f3 690.5px,#f3f3f3 691.5px,#f3f3f3 692.5px,#f3f3f3 693.5px,#f3f3f3 694.5px,#f3f3f3 695.5px,#f3f3f3 696.5px,#f3f3f3 697.5px,#f3f3f3 698.5px,#f3f3f3 699.5px,#f3f3f3 700.5px,#f3f3f3 701.5px,#f3f3f3 702.5px,#f2f2f2 703.5px,#eeeeee 704.5px,#e8e8e8 705.5px,#e3e3e3 706.5px,#e8e8e8 707.5px,#efefef 708.5px,#f2f2f2 709.5px,#f3f3f3 710.5px,#f3f3f3 711.5px,#f2f2f2 712.5px,#ededed 713.5px,#e8e8e8 714.5px,#e8e8e8 715.5px,#ededed 716.5px,#f2f2f2 717.5px,#f3f3f3 718.5px,#f4f4f4 719.5px,#f4f4f4 720.5px,#f4f4f4 721.5px,#f4f4f4 722.5px,#f4f4f4 723.5px,#f4f4f4 724.5px,#f4f4f4 725.5px,#f4f4f4 726.5px,#f4f4f4 727.5px,#f4f4f4 728.5px,#f4f4f4 729.5px,#f4f4f4 730.5px,#f4f4f4 731.5px,#f4f4f4 732.5px,#f4f4f4 733.5px,#f4f4f4 734.5px,#f4f4f4 735.5px,#f4f4f4 736.5px,#f4f4f4 737.5px,#f4f4f4 738.5px,#f4f4f4 739.5px,#f4f4f4 740.5px,#f4f4f4 741.5px,#f4f4f4 742.5px,#f4f4f4 743.5px,#f4f4f4 744.5px,#f4f4f4 745.5px,#f4f4f4 746.5px,#f4f4f4 747.5px,#f4f4f4 748.5px,#f4f4f4 749.5px,#f4f4f4 750.5px,#f4f4f4 751.5px,#f4f4f4 752.5px,#f4f4f4 753.5px,#f4f4f4 754.5px,#f4f4f4 755.5px,#f4f4f4 756.5px,#f4f4f4 757.5px,#f3f3f3 758.5px,#eeeeee 759.5px,#e4e4e4 760.5px,#dedede 761.5px,#e4e4e4 762.5px,#eeeeee 763.5px,#f3f3f3 764.5px,#f4f4f4 765.5px,#f4f4f4 766.5px,#f4f4f4 767.5px,#f4f4f4 768.5px,#f4f4f4 769.5px,#f4f4f4 770.5px,#f4f4f4 771.5px,#f4f4f4 772.5px,#f4f4f4 773.5px,#f4f4f4 774.5px,#f4f4f4 775.5px,#f5f5f5 776.5px,#f5f5f5 777.5px,#f5f5f5 778.5px,#f5f5f5 779.5px,#f5f5f5 780.5px,#f5f5f5 781.5px,#f5f5f5 782.5px,#f5f5f5 783.5px,#f4f4f4 784.5px,#f2f2f2 785.5px,#eeeeee 786.5px,#ebebeb 787.5px,#ececec 788.5px,#f1f1f1 789.5px,#f4f4f4 790.5px,#f5f5f5 791.5px,#f4f4f4 792.5px,#f3f3f3 793.5px,#ececec 794.5px,#dedede 795.5px,#d7d7d7 796.5px,#dfdfdf 797.5px,#ececec 798.5px,#f3f3f3 799.5px,#f5f5f5 800.5px,#f5f5f5 801.5px,#f5f5f5 802.5px,#f5f5f5 803.5px,#f5f5f5 804.5px,#f5f5f5 805.5px,#f5f5f5 806.5px,#f5f5f5 807.5px,#f5f5f5 808.5px,#f5f5f5 809.5px,#f5f5f5 810.5px,#f5f5f5 811.5px,#f5f5f5 812.5px,#f5f5f5 813.5px,#f5f5f5 814.5px,#f5f5f5 815.5px,#f5f5f5 816.5px,#f5f5f5 817.5px,#f5f5f5 818.5px,#f5f5f5 819.5px,#f5f5f5 820.5px,#f5f5f5 821.5px,#f5f5f5 822.5px,#f5f5f5 823.5px,#f5f5f5 824.5px,#f5f5f5 825.5px,#f5f5f5 826.5px,#f5f5f5 827.5px,#f5f5f5 828.5px,#f3f3f3 829.5px,#efefef 830.5px,#ededed 831.5px,#efefef 832.5px,#f3f3f3 833.5px,#f5f5f5 834.5px,#f5f5f5 835.5px,#f5f5f5 836.5px,#f5f5f5 837.5px,#f5f5f5 838.5px,#f5f5f5 839.5px,#f5f5f5 840.5px,#f6f6f6 841.5px,#f6f6f6 842.5px,#f6f6f6 843.5px,#f6f6f6 844.5px,#f6f6f6 845.5px,#f6f6f6 846.5px,#f6f6f6 847.5px,#f6f6f6 848.5px,#f6f6f6 849.5px,#f6f6f6 850.5px,#f6f6f6 851.5px,#f6f6f6 852.5px,#f6f6f6 853.5px,#f6f6f6 854.5px,#f6f6f6 855.5px,#f6f6f6 856.5px,#f6f6f6 857.5px,#f6f6f6 858.5px,#f6f6f6 859.5px,#f6f6f6 860.5px,#f6f6f6 861.5px,#f6f6f6 862.5px,#f6f6f6 863.5px,#f6f6f6 864.5px,#f6f6f6 865.5px,#f6f6f6 866.5px,#f6f6f6 867.5px,#f6f6f6 868.5px,#f6f6f6 869.5px,#f6f6f6 870.5px,#f6f6f6 871.5px,#f6f6f6 872.5px,#f6f6f6 873.5px)"></div>
<div class="sp" style="left:21px;top:330px;width:874px;height:144px;background:linear-gradient(to bottom,rgba(0,0,0,0) 0px,rgba(0,0,0,0) 60px,rgba(0,0,0,0.012) 64px,rgba(0,0,0,0) 68px,rgba(0,0,0,0) 77px,rgba(0,0,0,0.02) 81px,rgba(0,0,0,0.02) 84px,rgba(0,0,0,0) 88px)"></div>
<div class="sp" style="left:21px;top:330px;width:874px;height:1px;background:rgba(255,255,255,0.75)"></div>
<div class="sp" style="left:21px;top:473px;width:874px;height:1px;background:rgba(255,255,255,0.75)"></div>
<div class="sp" style="left:18px;top:329px;width:880px;height:1px;background:rgba(40,40,40,0.35)"></div>
<div class="t" style="top:517.8px;color:#666;letter-spacing:-0.066px">In summary, this is how the global view of the solar spectrum looks in its visible part:</div>
<div class="box" style="left:14px;top:556px;width:887px;height:258px;border-style:solid;border-width:1px 2px;border-color:#8a8a8a #9c9c9c;background:#fff"></div>
<div class="sp" style="left:15px;top:637px;width:885px;height:98px;background:linear-gradient(to right,#3d3d3d 0.5px,#3e3e3e 1.5px,#404040 2.5px,#414141 3.5px,#3f3f3f 4.5px,#3e3e3e 5.5px,#404040 6.5px,#454545 7.5px,#484848 8.5px,#494949 9.5px,#474747 10.5px,#494949 11.5px,#4e4e4e 12.5px,#515151 13.5px,#525252 14.5px,#505050 15.5px,#4f4f4f 16.5px,#505050 17.5px,#505050 18.5px,#4c4c4c 19.5px,#484848 20.5px,#464646 21.5px,#474747 22.5px,#434343 23.5px,#393939 24.5px,#343434 25.5px,#343434 26.5px,#343434 27.5px,#343434 28.5px,#343434 29.5px,#383838 30.5px,#414141 31.5px,#454545 32.5px,#454545 33.5px,#454545 34.5px,#454545 35.5px,#454545 36.5px,#464646 37.5px,#464646 38.5px,#454545 39.5px,#434343 40.5px,#434343 41.5px,#494949 42.5px,#4f4f4f 43.5px,#505050 44.5px,#4f4f4f 45.5px,#4c4c4c 46.5px,#4c4c4c 47.5px,#4f4f4f 48.5px,#515151 49.5px,#515151 50.5px,#4a4a4a 51.5px,#393939 52.5px,#2c2c2c 53.5px,#333333 54.5px,#444444 55.5px,#4c4c4c 56.5px,#4e4e4e 57.5px,#4e4e4e 58.5px,#4d4d4d 59.5px,#484848 60.5px,#3e3e3e 61.5px,#343434 62.5px,#353535 63.5px,#454545 64.5px,#5b5b5b 65.5px,#686868 66.5px,#6b6b6b 67.5px,#6c6c6c 68.5px,#6b6b6b 69.5px,#696969 70.5px,#666666 71.5px,#666666 72.5px,#696969 73.5px,#6a6a6a 74.5px,#696969 75.5px,#666666 76.5px,#666666 77.5px,#696969 78.5px,#6b6b6b 79.5px,#686868 80.5px,#616161 81.5px,#5e5e5e 82.5px,#5e5e5e 83.5px,#5e5e5e 84.5px,#5d5d5d 85.5px,#5b5b5b 86.5px,#585858 87.5px,#585858 88.5px,#5b5b5b 89.5px,#5c5c5c 90.5px,#5b5b5b 91.5px,#585858 92.5px,#585858 93.5px,#5b5b5b 94.5px,#5d5d5d 95.5px,#5f5f5f 96.5px,#626262 97.5px,#646464 98.5px,#636363 99.5px,#616161 100.5px,#5f5f5f 101.5px,#5b5b5b 102.5px,#5b5b5b 103.5px,#5d5d5d 104.5px,#5e5e5e 105.5px,#5e5e5e 106.5px,#5d5d5d 107.5px,#5a5a5a 108.5px,#575757 109.5px,#565656 110.5px,#585858 111.5px,#595959 112.5px,#575757 113.5px,#545454 114.5px,#535353 115.5px,#555555 116.5px,#565656 117.5px,#545454 118.5px,#515151 119.5px,#505050 120.5px,#525252 121.5px,#545454 122.5px,#525252 123.5px,#505050 124.5px,#505050 125.5px,#525252 126.5px,#525252 127.5px,#515151 128.5px,#4f4f4f 129.5px,#4e4e4e 130.5px,#505050 131.5px,#515151 132.5px,#505050 133.5px,#4d4d4d 134.5px,#4d4d4d 135.5px,#4f4f4f 136.5px,#505050 137.5px,#515151 138.5px,#515151 139.5px,#505050 140.5px,#505050 141.5px,#505050 142.5px,#4f4f4f 143.5px,#4e4e4e 144.5px,#4e4e4e 145.5px,#4d4d4d 146.5px,#4c4c4c 147.5px,#4c4c4c 148.5px,#4a4a4a 149.5px,#454545 150.5px,#3d3d3d 151.5px,#343434 152.5px,#353535 153.5px,#3e3e3e 154.5px,#474747 155.5px,#4b4b4b 156.5px,#4c4c4c 157.5px,#4c4c4c 158.5px,#4b4b4b 159.5px,#4a4a4a 160.5px,#464646 161.5px,#424242 162.5px,#444444 163.5px,#464646 164.5px,#474747 165.5px,#474747 166.5px,#464646 167.5px,#454545 168.5px,#444444 169.5px,#414141 170.5px,#3d3d3d 171.5px,#3a3a3a 172.5px,#3b3b3b 173.5px,#3e3e3e 174.5px,#404040 175.5px,#404040 176.5px,#404040 177.5px,#3f3f3f 178.5px,#3f3f3f 179.5px,#3f3f3f 180.5px,#3e3e3e 181.5px,#3e3e3e 182.5px,#3d3d3d 183.5px,#3d3d3d 184.5px,#3d3d3d 185.5px,#3c3c3c 186.5px,#3c3c3c 187.5px,#3b3b3b 188.5px,#3b3b3b 189.5px,#3b3b3b 190.5px,#3a3a3a 191.5px,#3a3a3a 192.5px,#3a3a3a 193.5px,#393939 194.5px,#393939 195.5px,#393939 196.5px,#393939 197.5px,#393939 198.5px,#383838 199.5px,#383838 200.5px,#383838 201.5px,#383838 202.5px,#373737 203.5px,#373737 204.5px,#373737 205.5px,#373737 206.5px,#373737 207.5px,#363636 208.5px,#363636 209.5px,#353535 210.5px,#323232 211.5px,#2f2f2f 212.5px,#2e2e2e 213.5px,#2e2e2e 214.5px,#2e2e2e 215.5px,#2e2e2e 216.5px,#2e2e2e 217.5px,#2e2e2e 218.5px,#2e2e2e 219.5px,#2e2e2e 220.5px,#2e2e2e 221.5px,#2e2e2e 222.5px,#2e2e2e 223.5px,#2e2e2e 224.5px,#2f2f2f 225.5px,#313131 226.5px,#323232 227.5px,#343434 228.5px,#363636 229.5px,#373737 230.5px,#393939 231.5px,#3b3b3b 232.5px,#3d3d3d 233.5px,#3e3e3e 234.5px,#404040 235.5px,#424242 236.5px,#434343 237.5px,#454545 238.5px,#474747 239.5px,#484848 240.5px,#494949 241.5px,#4a4a4a 242.5px,#4c4c4c 243.5px,#4d4d4d 244.5px,#4e4e4e 245.5px,#4f4f4f 246.5px,#505050 247.5px,#525252 248.5px,#535353 249.5px,#545454 250.5px,#555555 251.5px,#565656 252.5px,#585858 253.5px,#595959 254.5px,#5a5a5a 255.5px,#5b5b5b 256.5px,#5d5d5d 257.5px,#5e5e5e 258.5px,#5f5f5f 259.5px,#606060 260.5px,#626262 261.5px,#636363 262.5px,#646464 263.5px,#656565 264.5px,#676767 265.5px,#686868 266.5px,#696969 267.5px,#6b6b6b 268.5px,#6c6c6c 269.5px,#6d6d6d 270.5px,#6e6e6e 271.5px,#707070 272.5px,#717171 273.5px,#727272 274.5px,#737373 275.5px,#757575 276.5px,#767676 277.5px,#777777 278.5px,#787878 279.5px,#797979 280.5px,#7a7a7a 281.5px,#7b7b7b 282.5px,#7c7c7c 283.5px,#7d7d7d 284.5px,#7e7e7e 285.5px,#7f7f7f 286.5px,#808080 287.5px,#818181 288.5px,#828282 289.5px,#838383 290.5px,#848484 291.5px,#858585 292.5px,#868686 293.5px,#878787 294.5px,#888888 295.5px,#898989 296.5px,#878787 297.5px,#808080 298.5px,#777777 299.5px,#737373 300.5px,#797979 301.5px,#838383 302.5px,#8b8b8b 303.5px,#8e8e8e 304.5px,#8e8e8e 305.5px,#8b8b8b 306.5px,#898989 307.5px,#8c8c8c 308.5px,#909090 309.5px,#939393 310.5px,#949494 311.5px,#939393 312.5px,#919191 313.5px,#8e8e8e 314.5px,#8d8d8d 315.5px,#8d8d8d 316.5px,#8e8e8e 317.5px,#929292 318.5px,#959595 319.5px,#969696 320.5px,#949494 321.5px,#929292 322.5px,#939393 323.5px,#949494 324.5px,#939393 325.5px,#949494 326.5px,#959595 327.5px,#959595 328.5px,#989898 329.5px,#9c9c9c 330.5px,#9f9f9f 331.5px,#a0a0a0 332.5px,#a1a1a1 333.5px,#a0a0a0 334.5px,#9e9e9e 335.5px,#9a9a9a 336.5px,#9a9a9a 337.5px,#9b9b9b 338.5px,#9b9b9b 339.5px,#9c9c9c 340.5px,#9f9f9f 341.5px,#a1a1a1 342.5px,#a2a2a2 343.5px,#a2a2a2 344.5px,#a0a0a0 345.5px,#9d9d9d 346.5px,#9b9b9b 347.5px,#999999 348.5px,#999999 349.5px,#9a9a9a 350.5px,#9e9e9e 351.5px,#a1a1a1 352.5px,#a2a2a2 353.5px,#a2a2a2 354.5px,#a1a1a1 355.5px,#a0a0a0 356.5px,#9f9f9f 357.5px,#9c9c9c 358.5px,#999999 359.5px,#979797 360.5px,#969696 361.5px,#949494 362.5px,#959595 363.5px,#979797 364.5px,#9a9a9a 365.5px,#9a9a9a 366.5px,#9a9a9a 367.5px,#999999 368.5px,#989898 369.5px,#959595 370.5px,#8f8f8f 371.5px,#898989 372.5px,#8a8a8a 373.5px,#8f8f8f 374.5px,#939393 375.5px,#949494 376.5px,#939393 377.5px,#919191 378.5px,#8d8d8d 379.5px,#848484 380.5px,#787878 381.5px,#6e6e6e 382.5px,#6c6c6c 383.5px,#727272 384.5px,#787878 385.5px,#797979 386.5px,#7b7b7b 387.5px,#818181 388.5px,#868686 389.5px,#868686 390.5px,#838383 391.5px,#828282 392.5px,#848484 393.5px,#888888 394.5px,#8a8a8a 395.5px,#8b8b8b 396.5px,#8b8b8b 397.5px,#8c8c8c 398.5px,#8c8c8c 399.5px,#8c8c8c 400.5px,#8d8d8d 401.5px,#8d8d8d 402.5px,#8d8d8d 403.5px,#8d8d8d 404.5px,#8d8d8d 405.5px,#8b8b8b 406.5px,#848484 407.5px,#7c7c7c 408.5px,#7c7c7c 409.5px,#868686 410.5px,#8f8f8f 411.5px,#929292 412.5px,#929292 413.5px,#939393 414.5px,#939393 415.5px,#939393 416.5px,#939393 417.5px,#939393 418.5px,#929292 419.5px,#8f8f8f 420.5px,#8c8c8c 421.5px,#8c8c8c 422.5px,#8e8e8e 423.5px,#8e8e8e 424.5px,#8f8f8f 425.5px,#929292 426.5px,#949494 427.5px,#959595 428.5px,#949494 429.5px,#909090 430.5px,#8e8e8e 431.5px,#909090 432.5px,#949494 433.5px,#959595 434.5px,#949494 435.5px,#929292 436.5px,#929292 437.5px,#959595 438.5px,#979797 439.5px,#989898 440.5px,#989898 441.5px,#969696 442.5px,#939393 443.5px,#909090 444.5px,#909090 445.5px,#8f8f8f 446.5px,#8f8f8f 447.5px,#929292 448.5px,#979797 449.5px,#999999 450.5px,#9a9a9a 451.5px,#989898 452.5px,#959595 453.5px,#949494 454.5px,#979797 455.5px,#9b9b9b 456.5px,#9d9d9d 457.5px,#9e9e9e 458.5px,#9f9f9f 459.5px,#9f9f9f 460.5px,#9f9f9f 461.5px,#9d9d9d 462.5px,#9b9b9b 463.5px,#9b9b9b 464.5px,#9b9b9b 465.5px,#9a9a9a 466.5px,#9a9a9a 467.5px,#9d9d9d 468.5px,#a1a1a1 469.5px,#a3a3a3 470.5px,#a3a3a3 471.5px,#a3a3a3 472.5px,#a1a1a1 473.5px,#9f9f9f 474.5px,#9f9f9f 475.5px,#a2a2a2 476.5px,#a4a4a4 477.5px,#a3a3a3 478.5px,#a0a0a0 479.5px,#9f9f9f 480.5px,#a2a2a2 481.5px,#a6a6a6 482.5px,#a8a8a8 483.5px,#a8a8a8 484.5px,#a8a8a8 485.5px,#a7a7a7 486.5px,#a4a4a4 487.5px,#a2a2a2 488.5px,#a4a4a4 489.5px,#a8a8a8 490.5px,#a9a9a9 491.5px,#a7a7a7 492.5px,#a4a4a4 493.5px,#a5a5a5 494.5px,#a8a8a8 495.5px,#ababab 496.5px,#acacac 497.5px,#a9a9a9 498.5px,#a6a6a6 499.5px,#a7a7a7 500.5px,#aaaaaa 501.5px,#aeaeae 502.5px,#afafaf 503.5px,#afafaf 504.5px,#b0b0b0 505.5px,#b0b0b0 506.5px,#b0b0b0 507.5px,#b1b1b1 508.5px,#b1b1b1 509.5px,#b0b0b0 510.5px,#aeaeae 511.5px,#ababab 512.5px,#acacac 513.5px,#b0b0b0 514.5px,#b3b3b3 515.5px,#b5b5b5 516.5px,#b6b6b6 517.5px,#b7b7b7 518.5px,#b7b7b7 519.5px,#b8b8b8 520.5px,#b9b9b9 521.5px,#b9b9b9 522.5px,#b9b9b9 523.5px,#b7b7b7 524.5px,#b4b4b4 525.5px,#b6b6b6 526.5px,#bbbbbb 527.5px,#bfbfbf 528.5px,#c3c3c3 529.5px,#c6c6c6 530.5px,#c6c6c6 531.5px,#c6c6c6 532.5px,#c7c7c7 533.5px,#c7c7c7 534.5px,#c7c7c7 535.5px,#c7c7c7 536.5px,#c7c7c7 537.5px,#c7c7c7 538.5px,#c7c7c7 539.5px,#c7c7c7 540.5px,#c7c7c7 541.5px,#c7c7c7 542.5px,#c5c5c5 543.5px,#c2c2c2 544.5px,#c0c0c0 545.5px,#c1c1c1 546.5px,#c5c5c5 547.5px,#c7c7c7 548.5px,#c8c8c8 549.5px,#c9c9c9 550.5px,#cccccc 551.5px,#cecece 552.5px,#cecece 553.5px,#cdcdcd 554.5px,#cdcdcd 555.5px,#cdcdcd 556.5px,#cccccc 557.5px,#cccccc 558.5px,#cacaca 559.5px,#c7c7c7 560.5px,#c4c4c4 561.5px,#c4c4c4 562.5px,#c7c7c7 563.5px,#c9c9c9 564.5px,#cacaca 565.5px,#cacaca 566.5px,#c9c9c9 567.5px,#c9c9c9 568.5px,#c9c9c9 569.5px,#c8c8c8 570.5px,#c7c7c7 571.5px,#bfbfbf 572.5px,#afafaf 573.5px,#9e9e9e 574.5px,#9b9b9b 575.5px,#a5a5a5 576.5px,#b0b0b0 577.5px,#b5b5b5 578.5px,#b6b6b6 579.5px,#b6b6b6 580.5px,#b5b5b5 581.5px,#b5b5b5 582.5px,#b4b4b4 583.5px,#b3b3b3 584.5px,#b3b3b3 585.5px,#b2b2b2 586.5px,#b1b1b1 587.5px,#b0b0b0 588.5px,#aeaeae 589.5px,#ababab 590.5px,#aaaaaa 591.5px,#ababab 592.5px,#acacac 593.5px,#acacac 594.5px,#ababab 595.5px,#aaaaaa 596.5px,#a8a8a8 597.5px,#a6a6a6 598.5px,#a3a3a3 599.5px,#a1a1a1 600.5px,#a1a1a1 601.5px,#a2a2a2 602.5px,#a3a3a3 603.5px,#a2a2a2 604.5px,#a1a1a1 605.5px,#a0a0a0 606.5px,#9e9e9e 607.5px,#9c9c9c 608.5px,#999999 609.5px,#989898 610.5px,#999999 611.5px,#9a9a9a 612.5px,#999999 613.5px,#989898 614.5px,#989898 615.5px,#969696 616.5px,#949494 617.5px,#919191 618.5px,#8f8f8f 619.5px,#909090 620.5px,#919191 621.5px,#929292 622.5px,#919191 623.5px,#909090 624.5px,#8f8f8f 625.5px,#8e8e8e 626.5px,#8b8b8b 627.5px,#898989 628.5px,#888888 629.5px,#898989 630.5px,#8a8a8a 631.5px,#8a8a8a 632.5px,#898989 633.5px,#888888 634.5px,#878787 635.5px,#858585 636.5px,#828282 637.5px,#808080 638.5px,#818181 639.5px,#828282 640.5px,#828282 641.5px,#828282 642.5px,#818181 643.5px,#808080 644.5px,#7f7f7f 645.5px,#7c7c7c 646.5px,#7a7a7a 647.5px,#797979 648.5px,#7a7a7a 649.5px,#7b7b7b 650.5px,#7b7b7b 651.5px,#7b7b7b 652.5px,#7a7a7a 653.5px,#797979 654.5px,#777777 655.5px,#747474 656.5px,#727272 657.5px,#737373 658.5px,#757575 659.5px,#757575 660.5px,#757575 661.5px,#747474 662.5px,#737373 663.5px,#727272 664.5px,#6f6f6f 665.5px,#6d6d6d 666.5px,#6c6c6c 667.5px,#6d6d6d 668.5px,#6e6e6e 669.5px,#6e6e6e 670.5px,#6e6e6e 671.5px,#6d6d6d 672.5px,#6c6c6c 673.5px,#6a6a6a 674.5px,#656565 675.5px,#606060 676.5px,#606060 677.5px,#646464 678.5px,#676767 679.5px,#676767 680.5px,#676767 681.5px,#676767 682.5px,#656565 683.5px,#636363 684.5px,#616161 685.5px,#606060 686.5px,#626262 687.5px,#636363 688.5px,#636363 689.5px,#636363 690.5px,#626262 691.5px,#616161 692.5px,#606060 693.5px,#5d5d5d 694.5px,#5c5c5c 695.5px,#5d5d5d 696.5px,#5f5f5f 697.5px,#606060 698.5px,#606060 699.5px,#5f5f5f 700.5px,#5f5f5f 701.5px,#5e5e5e 702.5px,#5c5c5c 703.5px,#595959 704.5px,#595959 705.5px,#5b5b5b 706.5px,#5c5c5c 707.5px,#5d5d5d 708.5px,#5c5c5c 709.5px,#5c5c5c 710.5px,#5b5b5b 711.5px,#5a5a5a 712.5px,#575757 713.5px,#565656 714.5px,#575757 715.5px,#595959 716.5px,#5a5a5a 717.5px,#5a5a5a 718.5px,#5a5a5a 719.5px,#5a5a5a 720.5px,#595959 721.5px,#575757 722.5px,#555555 723.5px,#555555 724.5px,#575757 725.5px,#595959 726.5px,#5a5a5a 727.5px,#5a5a5a 728.5px,#5a5a5a 729.5px,#5a5a5a 730.5px,#585858 731.5px,#565656 732.5px,#555555 733.5px,#565656 734.5px,#585858 735.5px,#5a5a5a 736.5px,#5a5a5a 737.5px,#5a5a5a 738.5px,#5a5a5a 739.5px,#595959 740.5px,#575757 741.5px,#555555 742.5px,#555555 743.5px,#575757 744.5px,#595959 745.5px,#5a5a5a 746.5px,#5a5a5a 747.5px,#5a5a5a 748.5px,#5a5a5a 749.5px,#595959 750.5px,#565656 751.5px,#4f4f4f 752.5px,#484848 753.5px,#474747 754.5px,#4c4c4c 755.5px,#525252 756.5px,#545454 757.5px,#555555 758.5px,#555555 759.5px,#545454 760.5px,#525252 761.5px,#515151 762.5px,#515151 763.5px,#525252 764.5px,#545454 765.5px,#545454 766.5px,#545454 767.5px,#545454 768.5px,#535353 769.5px,#525252 770.5px,#505050 771.5px,#505050 772.5px,#525252 773.5px,#535353 774.5px,#535353 775.5px,#535353 776.5px,#535353 777.5px,#535353 778.5px,#515151 779.5px,#4f4f4f 780.5px,#4f4f4f 781.5px,#515151 782.5px,#525252 783.5px,#535353 784.5px,#535353 785.5px,#535353 786.5px,#525252 787.5px,#505050 788.5px,#4f4f4f 789.5px,#4f4f4f 790.5px,#505050 791.5px,#525252 792.5px,#525252 793.5px,#525252 794.5px,#525252 795.5px,#515151 796.5px,#505050 797.5px,#4e4e4e 798.5px,#4e4e4e 799.5px,#505050 800.5px,#515151 801.5px,#525252 802.5px,#525252 803.5px,#515151 804.5px,#515151 805.5px,#4f4f4f 806.5px,#4e4e4e 807.5px,#4e4e4e 808.5px,#4f4f4f 809.5px,#515151 810.5px,#515151 811.5px,#515151 812.5px,#515151 813.5px,#505050 814.5px,#4f4f4f 815.5px,#4d4d4d 816.5px,#4d4d4d 817.5px,#4f4f4f 818.5px,#505050 819.5px,#515151 820.5px,#515151 821.5px,#505050 822.5px,#505050 823.5px,#4e4e4e 824.5px,#4d4d4d 825.5px,#4d4d4d 826.5px,#4e4e4e 827.5px,#505050 828.5px,#505050 829.5px,#505050 830.5px,#505050 831.5px,#4f4f4f 832.5px,#4c4c4c 833.5px,#424242 834.5px,#353535 835.5px,#303030 836.5px,#353535 837.5px,#3c3c3c 838.5px,#3f3f3f 839.5px,#3f3f3f 840.5px,#3e3e3e 841.5px,#3c3c3c 842.5px,#3c3c3c 843.5px,#3e3e3e 844.5px,#3f3f3f 845.5px,#404040 846.5px,#424242 847.5px,#454545 848.5px,#464646 849.5px,#444444 850.5px,#444444 851.5px,#454545 852.5px,#464646 853.5px,#464646 854.5px,#464646 855.5px,#454545 856.5px,#434343 857.5px,#414141 858.5px,#414141 859.5px,#424242 860.5px,#444444 861.5px,#444444 862.5px,#444444 863.5px,#434343 864.5px,#424242 865.5px,#414141 866.5px,#3f3f3f 867.5px,#3f3f3f 868.5px,#404040 869.5px,#414141 870.5px,#414141 871.5px,#414141 872.5px,#404040 873.5px,#3f3f3f 874.5px,#3d3d3d 875.5px,#3c3c3c 876.5px,#3e3e3e 877.5px,#3f3f3f 878.5px,#3f3f3f 879.5px,#3f3f3f 880.5px,#3f3f3f 881.5px,#3e3e3e 882.5px,#3e3e3e 883.5px,#3e3e3e 884.5px)"></div>
<div class="sp" style="left:15px;top:635px;width:885px;height:1px;background:#8a8a8a"></div>
<div class="sp" style="left:15px;top:636px;width:885px;height:1px;background:#181818"></div>
<div class="sp" style="left:15px;top:735px;width:885px;height:1px;background:#1a1a1a"></div>
<div class="sp" style="left:15px;top:736px;width:885px;height:1px;background:#a0a0a0"></div>
<div class="lab" style="left:8.0px;top:561.3px">K<br>Ca II<br>3934</div>
<div class="lab" style="left:53.7px;top:561.3px">h<br>H delta<br>4102</div>
<div class="lab" style="left:98.1px;top:561.3px">G<br>Fe I<br>4307</div>
<div class="lab" style="left:137.4px;top:561.3px">e<br>Fe I<br>4383</div>
<div class="lab" style="left:337.3px;top:561.3px">b4<br>Mg I<br>5167</div>
<div class="lab" style="left:530.7px;top:561.3px">D1, D2<br>Na I<br>5893</div>
<div class="lab" style="left:632.3px;top:561.3px">a<br>O2<br>6279</div>
<div class="lab" style="left:790.4px;top:561.3px">B<br>O2<br>6868</div>
<div class="lab" style="left:17.6px;top:762.4px">H<br>Ca II<br>3968</div>
<div class="lab" style="left:116.3px;top:762.4px">G’<br>H gamma<br>4340</div>
<div class="lab" style="left:255.7px;top:762.4px">F<br>H beta<br>4861</div>
<div class="lab" style="left:364.0px;top:762.4px">E2<br>Fe I<br>5270</div>
<div class="lab" style="left:709.9px;top:762.4px">C<br>H alpha<br>6563</div>
<div class="tk" style="left:67.3px;top:610.4px;height:22.6px"></div>
<div class="tk" style="left:112.7px;top:610.4px;height:22.6px"></div>
<div class="tk" style="left:167.0px;top:610.4px;height:22.6px"></div>
<div class="tk" style="left:186.7px;top:610.4px;height:22.6px"></div>
<div class="tk" style="left:396.5px;top:610.4px;height:22.6px"></div>
<div class="tk" style="left:589.7px;top:610.4px;height:22.6px"></div>
<div class="tk" style="left:691.3px;top:610.4px;height:22.6px"></div>
<div class="tk" style="left:849.4px;top:610.4px;height:22.6px"></div>
<div class="tk" style="left:76.6px;top:737.7px;height:23px"></div>
<div class="tk" style="left:175.3px;top:737.7px;height:23px"></div>
<div class="tk" style="left:314.7px;top:737.7px;height:23px"></div>
<div class="tk" style="left:423.0px;top:737.7px;height:23px"></div>
<div class="tk" style="left:768.9px;top:737.7px;height:23px"></div>
</body></html>
